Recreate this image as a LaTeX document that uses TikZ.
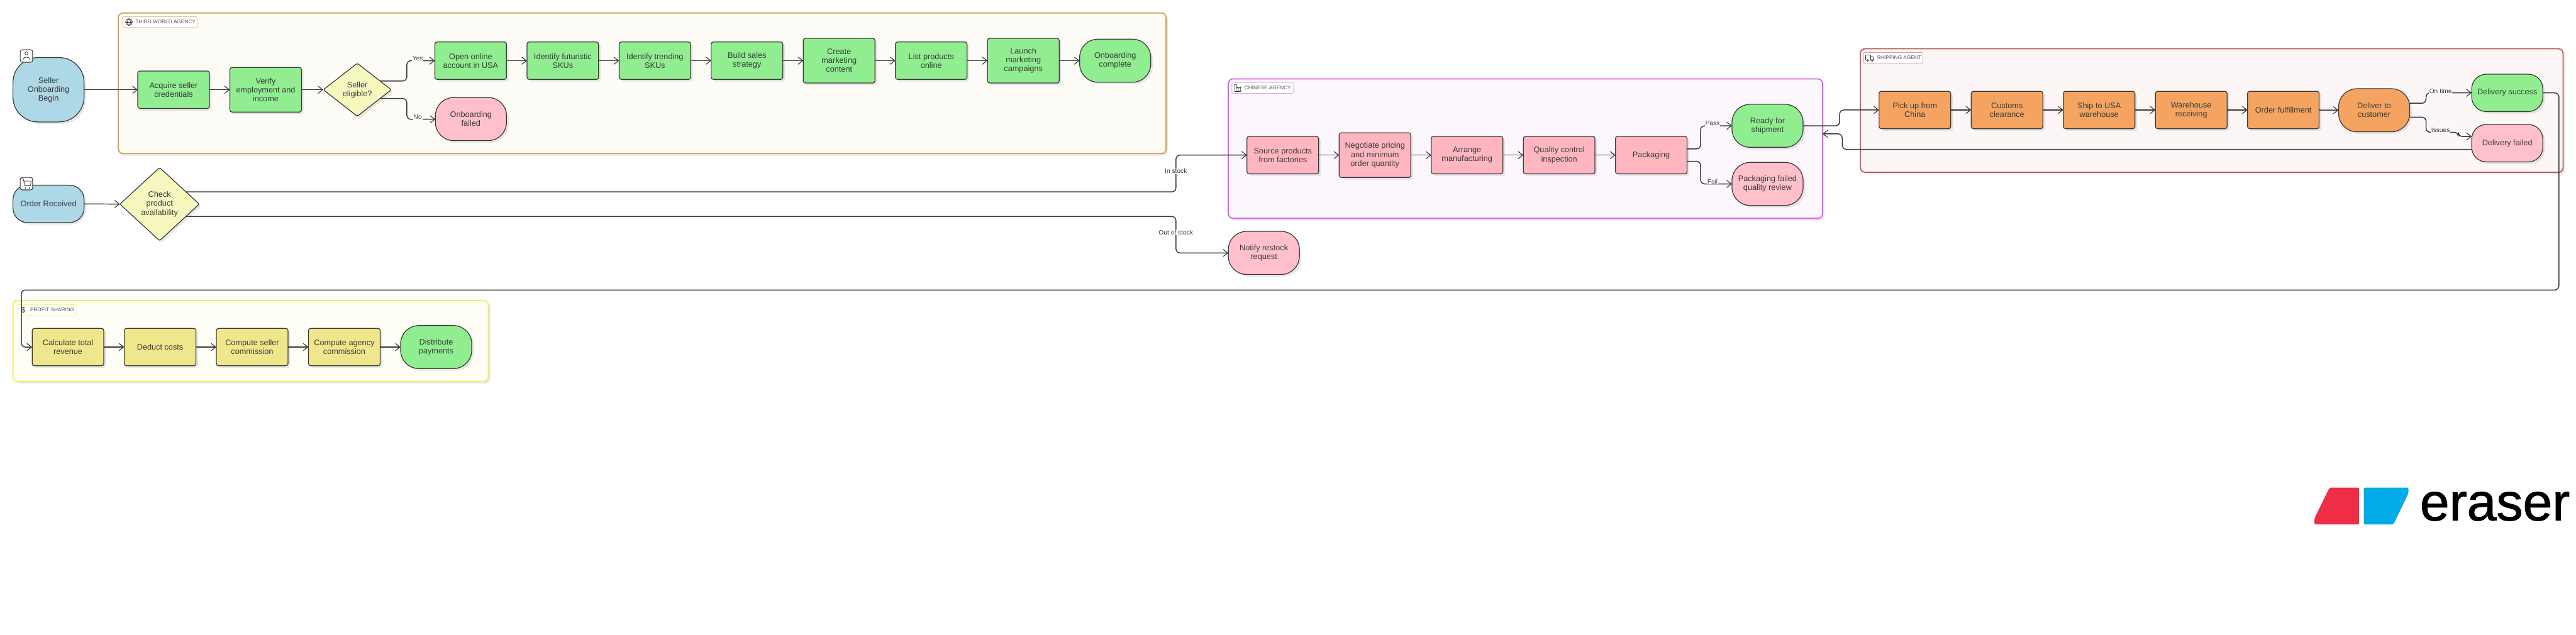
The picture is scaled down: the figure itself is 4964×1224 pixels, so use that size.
\documentclass[tikz,border=0pt]{standalone}
\usepackage{fontspec}
\setmainfont{Liberation Sans}
\newfontfamily\logofont[FakeBold=1.2]{Liberation Sans}
\usepackage{xcolor}
\usetikzlibrary{arrows.meta,positioning,calc,shapes.geometric,shadows}
\definecolor{ink}{HTML}{3A3A3A}
\definecolor{muted}{HTML}{555555}
\definecolor{sky}{HTML}{ADD8E6}
\definecolor{leaf}{HTML}{90EE90}
\definecolor{rose}{HTML}{FFC0CB}
\definecolor{blush}{HTML}{FFB6C1}
\definecolor{sand}{HTML}{F4A460}
\definecolor{straw}{HTML}{F0E68C}
\definecolor{lemon}{HTML}{F6F7BE}
\definecolor{worldline}{HTML}{CFA05A}
\definecolor{worldpale}{HTML}{FCFBF6}
\definecolor{chinaline}{HTML}{D066DC}
\definecolor{chinapale}{HTML}{FBF7FD}
\definecolor{shipline}{HTML}{BC5A5A}
\definecolor{shippale}{HTML}{FCF7F6}
\definecolor{profitline}{HTML}{EFEF55}
\definecolor{profitpale}{HTML}{FEFEF7}
\definecolor{logored}{HTML}{EF2D44}
\definecolor{logoblue}{HTML}{00ABE8}

\begin{document}
\begin{tikzpicture}[x=1pt,y=-1pt,node distance=39.5pt,>={Straight Barb[length=9pt,width=14pt,line width=1.4pt]},
  soft/.style={drop shadow={shadow xshift=4pt,shadow yshift=-4pt,fill=black,opacity=.09}},
  box/.style={soft,draw=ink,line width=1.5pt,outer sep=0pt,inner sep=1pt,align=center,text=ink,
    font=\fontsize{15.4}{17}\selectfont},
  task/.style={box,rounded corners=4pt,minimum width=138pt,minimum height=72pt},
  tall/.style={minimum height=86pt},
  pill/.style={box,rounded corners=35pt,minimum width=137pt,minimum height=83pt},
  low/.style={rounded corners=28pt,minimum height=72pt},
  gate/.style={box,diamond,aspect=1,fill=lemon,rounded corners=3pt,inner sep=0pt},
  zone/.style={soft,line width=2.2pt,rounded corners=9pt,outer sep=0pt,anchor=north west},
  tag/.style={fill=white,line width=1pt,rounded corners=2pt,outer sep=0pt,minimum height=21pt,anchor=north west},
  tagtext/.style={text=muted,inner sep=0pt,font=\fontsize{10}{12}\selectfont},
  badge/.style={draw=ink,fill=white,line width=1.3pt,rounded corners=4pt,minimum width=24pt,minimum height=24pt,inner sep=0pt},
  glyph/.style={draw=ink,line width=1.1pt,line cap=round,line join=round},
  link/.style={->,draw=ink,line width=1.8pt},
  turn/.style={link,rounded corners=8pt},
  cue/.style={fill=white,text=ink,inner sep=1pt,font=\fontsize{12.4}{14}\selectfont}]
  \useasboundingbox (0,0) rectangle (4964,1224);

  % agency frames
  \node[zone,draw=worldline,fill=worldpale,minimum width=2019pt,minimum height=271pt] (world) at (228,25) {};
  \node[zone,draw=chinaline,fill=chinapale,minimum width=1145pt,minimum height=269pt] (china) at (2367,152) {};
  \node[zone,draw=shipline,fill=shippale,minimum width=1354pt,minimum height=238pt] (shipping) at (3585,94) {};
  \node[zone,draw=profitline,fill=profitpale,minimum width=916pt,minimum height=156pt] (profit) at (25,579) {};

  \node[tag,draw=worldline!60,minimum width=144pt] (tagworld) at (236,32) {};
  \node[tagtext,right=25pt of tagworld.west] {THIRD WORLD AGENCY};
  \node[tag,draw=chinaline!60,minimum width=118pt] (tagchina) at (2374,159) {};
  \node[tagtext,right=24pt of tagchina.west] {CHINESE AGENCY};
  \node[tag,draw=shipline!60,minimum width=114pt] (tagship) at (3591,101) {};
  \node[tagtext,right=26pt of tagship.west] {SHIPPING AGENT};
  \node[tag,draw=profitline!60,minimum width=114pt] (tagprofit) at (33,587) {};
  \node[tagtext,right=25pt of tagprofit.west] {PROFIT SHARING};
  \node[text=ink,inner sep=0pt,font=\fontsize{15}{17}\selectfont] at ($(tagprofit.west)+(12,0)$) {\$};

  % tag icons
  \begin{scope}[shift={($(tagworld.west)+(12.5,0)$)}]
    \draw[glyph] (0,0) circle (6.5);
    \draw[glyph] (0,0) ellipse (3 and 6.5);
    \draw[glyph] (-6.5,0) -- (6.5,0);
  \end{scope}
  \begin{scope}[shift={($(tagchina.west)+(11,0)$)}]
    \draw[glyph] (-6,7) -- (-6,-7) -- (-2.5,-7) -- (-2.5,1) -- (1,-2) -- (1,1) -- (6,-2) -- (6,7) -- cycle;
    \draw[glyph] (-2,4) -- (-1,4) (1.5,4) -- (2.5,4);
  \end{scope}
  \begin{scope}[shift={($(tagship.west)+(12,0)$)}]
    \draw[glyph] (-8,-5) rectangle (2,4);
    \draw[glyph] (2,-2) -- (6,-2) -- (8,1) -- (8,4) -- (2,4);
    \draw[glyph,fill=white] (-4,5) circle (1.7) (4.5,5) circle (1.7);
  \end{scope}

  % seller onboarding
  \node[pill,fill=sky,rounded corners=48pt,minimum height=124pt] (seller) at (93.5,173) {Seller\\Onboarding\\Begin};
  \node[badge] (sellerbadge) at (51,108) {};
  \draw[glyph] ($(sellerbadge)+(0,-5)$) circle (3);
  \draw[glyph] ($(sellerbadge)+(-7,8)$) .. controls ($(sellerbadge)+(-7,0)$) and ($(sellerbadge)+(7,0)$) .. ($(sellerbadge)+(7,8)$);
  \node[task,fill=leaf] (acquire) at (334.5,173) {Acquire seller\\credentials};
  \node[task,tall,fill=leaf,right=of acquire] (verify) {Verify\\employment and\\income};
  \node[gate,minimum width=131pt,minimum height=102pt] (eligible) at (688.5,173) {Seller\\eligible?};
  \node[task,fill=leaf] (account) at (907,117) {Open online\\account in USA};
  \node[task,fill=leaf,right=of account] (futuristic) {Identify futuristic\\SKUs};
  \node[task,fill=leaf,right=of futuristic] (trending) {Identify trending\\SKUs};
  \node[task,fill=leaf,right=of trending] (strategy) {Build sales\\strategy};
  \node[task,tall,fill=leaf,right=of strategy] (content) {Create\\marketing\\content};
  \node[task,fill=leaf,right=of content] (listing) {List products\\online};
  \node[task,tall,fill=leaf,right=of listing] (campaign) {Launch\\marketing\\campaigns};
  \node[pill,fill=leaf,right=of campaign] (complete) {Onboarding\\complete};
  \node[pill,fill=rose] (failed) at (907.5,229.5) {Onboarding\\failed};

  % orders
  \node[pill,low,fill=sky] (order) at (93.5,393) {Order Received};
  \node[badge] (orderbadge) at (51,354) {};
  \begin{scope}[shift={(orderbadge.center)}]
    \draw[glyph] (-9,-9) -- (-6,-9) -- (-3,4) -- (8,4) (-5.2,-5) -- (9,-5) -- (8,4);
    \fill[ink] (-2,8.5) circle (1.4) (6,8.5) circle (1.4);
  \end{scope}
  \node[gate,minimum width=153pt,minimum height=141pt] (stock) at (307.5,393.5) {Check\\product\\availability};
  \node[pill,fill=rose] (restock) at (2435.5,487.5) {Notify restock\\request};

  % chinese agency
  \node[task,fill=blush] (source) at (2472,299) {Source products\\from factories};
  \node[task,tall,fill=blush,right=of source] (pricing) {Negotiate pricing\\and minimum\\order quantity};
  \node[task,fill=blush,right=of pricing] (arrange) {Arrange\\manufacturing};
  \node[task,fill=blush,right=of arrange] (quality) {Quality control\\inspection};
  \node[task,fill=blush,right=of quality] (packing) {Packaging};
  \node[pill,fill=leaf] (ready) at (3406,242.5) {Ready for\\shipment};
  \node[pill,fill=rose] (rejected) at (3406,354.5) {Packaging failed\\quality review};

  % shipping agent
  \node[task,fill=sand] (pickup) at (3690,212) {Pick up from\\China};
  \node[task,fill=sand,right=of pickup] (customs) {Customs\\clearance};
  \node[task,fill=sand,right=of customs] (usa) {Ship to USA\\warehouse};
  \node[task,fill=sand,right=of usa] (receiving) {Warehouse\\receiving};
  \node[task,fill=sand,right=of receiving] (fulfil) {Order fulfillment};
  \node[pill,fill=sand] (deliver) at (4575,212.5) {Deliver to\\customer};
  \node[pill,low,fill=leaf] (success) at (4831.5,179) {Delivery success};
  \node[pill,low,fill=rose] (lost) at (4831.5,276) {Delivery failed};

  % profit sharing
  \node[task,fill=straw] (revenue) at (131,669) {Calculate total\\revenue};
  \node[task,fill=straw,right=of revenue] (costs) {Deduct costs};
  \node[task,fill=straw,right=of costs] (sellercut) {Compute seller\\commission};
  \node[task,fill=straw,right=of sellercut] (agencycut) {Compute agency\\commission};
  \node[pill,fill=leaf,right=of agencycut] (payout) {Distribute\\payments};

  % bends
  \coordinate (yesbend) at (784,117);
  \coordinate (nobend) at (784,230);
  \coordinate (instock) at (2266,299);
  \coordinate (nostock) at (2266,487.5);
  \coordinate (passbend) at (3277,242.5);
  \coordinate (failbend) at (3277,354.5);
  \coordinate (outbend) at (3545,212);
  \coordinate (backbend) at (3550,258);
  \coordinate (timebend) at (4675,179);
  \coordinate (issuebend) at (4675,255);
  \coordinate (issuejog) at (4737,255);
  \coordinate (farright) at (4931,559);
  \coordinate (farleft) at (41,559);

  \draw[link] (seller) -- (acquire); \draw[link] (acquire) -- (verify); \draw[link] (verify) -- (eligible);
  \draw[turn] (eligible.21) -| (yesbend) -- (account);
  \draw[turn] (eligible.-21) -| (nobend) -- (failed);
  \draw[link] (account) -- (futuristic); \draw[link] (futuristic) -- (trending); \draw[link] (trending) -- (strategy);
  \draw[link] (strategy) -- (content); \draw[link] (content) -- (listing); \draw[link] (listing) -- (campaign);
  \draw[link] (campaign) -- (complete);
  \draw[link] (order) -- (stock);
  \draw[turn] (stock.25) -| (instock) -- (source);
  \draw[turn] (stock.-25) -| (nostock) -- (restock);
  \draw[link] (source) -- (pricing); \draw[link] (pricing) -- (arrange); \draw[link] (arrange) -- (quality);
  \draw[link] (quality) -- (packing);
  \draw[turn] ($(packing.east)+(0,-12)$) -| (passbend) -- (ready);
  \draw[turn] ($(packing.east)+(0,12)$) -| (failbend) -- (rejected);
  \draw[turn] (ready) -| (outbend) -- (pickup);
  \draw[link] (pickup) -- (customs); \draw[link] (customs) -- (usa); \draw[link] (usa) -- (receiving);
  \draw[link] (receiving) -- (fulfil); \draw[link] (fulfil) -- (deliver);
  \draw[turn] ($(deliver.east)+(0,-13.5)$) -| (timebend) -- (success);
  \draw[turn] ($(deliver.east)+(0,13.5)$) -| (issuebend) -- (issuejog) |- ($(lost.west)+(0,-13)$);
  \draw[turn] ($(lost.west)+(0,12)$) -| (backbend) -- (china.east |- backbend);
  \draw[turn] (success) -| (farright) -- (farleft) |- (revenue);
  \draw[link] (revenue) -- (costs); \draw[link] (costs) -- (sellercut); \draw[link] (sellercut) -- (agencycut);
  \draw[link] (agencycut) -- (payout);

  % branch labels
  \node[cue] at (805,113) {Yes};
  \node[cue] at (805,226) {No};
  \node[cue] at (2266,330) {In stock};
  \node[cue] at (2266,448) {Out of stock};
  \node[cue] at (3300,238) {Pass};
  \node[cue] at (3300,350) {Fail};
  \node[cue] at (4703,175) {On time};
  \node[cue] at (4703,251) {Issues};

  % logo
  \fill[logored,rounded corners=2.5pt] (4489,940) -- (4546,940) -- (4546,1011) -- (4460,1011) -- (4460,999) -- cycle;
  \fill[logoblue,rounded corners=2.5pt] (4555,940) -- (4641,940) -- (4641,951) -- (4612,1011) -- (4555,1011) -- cycle;
  \node[anchor=base west,inner sep=0pt,text=black,font=\fontsize{102}{110}\selectfont\logofont] (logotext) at (4663,1003) {eraser};
\end{tikzpicture}
\end{document}
